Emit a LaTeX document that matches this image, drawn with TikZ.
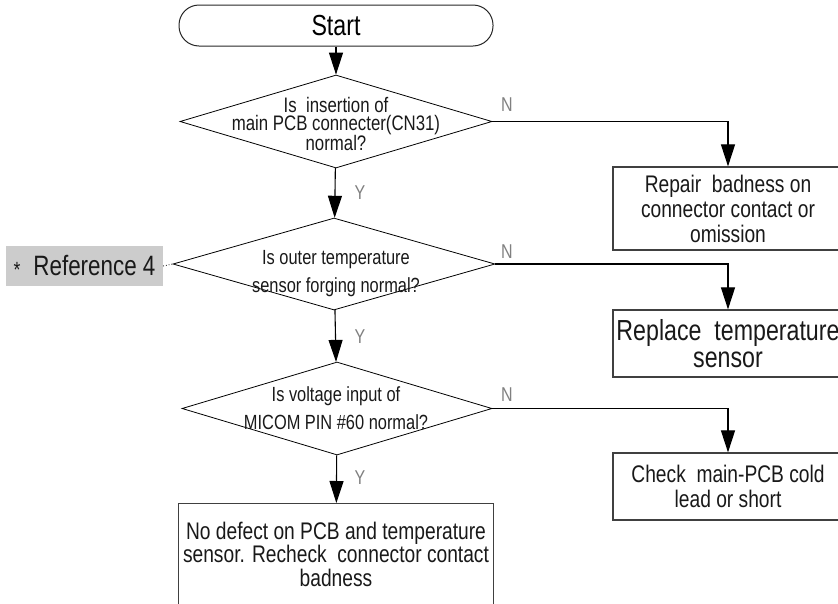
\documentclass[tikz,border=0pt]{standalone}
\usepackage{fontspec}
\setmainfont{Liberation Sans}[FakeStretch=0.8]
\usetikzlibrary{positioning,arrows.meta,shapes.geometric}

\begin{document}
\begin{tikzpicture}[x=1pt,y=-1pt,
    terminal/.style={rectangle,draw=black!85,line width=1pt,rounded corners=20pt,
                     minimum width=314pt,minimum height=41pt,inner sep=0pt,
                     font=\fontsize{29}{29}\selectfont},
    decision/.style={diamond,draw,line width=0.8pt,minimum width=312pt,minimum height=93pt,inner sep=0pt},
    question/.style={align=center,inner sep=0pt,text=black!90,font=\fontsize{20.5}{28}\selectfont},
    action/.style={rectangle,draw=black!75,line width=1.2pt,minimum width=230pt,inner sep=0pt,
                   align=center,text=black!90,font=\fontsize{24}{25}\selectfont},
    answer/.style={text=black!50,font=\fontsize{20}{20}\selectfont},
    arrow/.style={-{Triangle[length=22pt,width=14pt]},line width=1.1pt}
]
\useasboundingbox (0,0) rectangle (838,603);

\node[terminal] (start) at (336,25.5) {Start};
\node[decision] (q1) at (336,121.5) {};
\node[question,font=\fontsize{21}{18}\selectfont] (q1t) at (336,124) {Is\ \ insertion of\\main PCB connecter(CN31)\\normal?};
\node[decision,minimum width=322pt,minimum height=92pt] (q2) at (334,264) {};
\node[question] (q2t) at (336,274) {Is outer temperature\\sensor forging normal?};
\node[decision,minimum width=310pt] (q3) at (337,408.5) {};
\node[question] (q3t) at (336,408) {Is voltage input of\\MICOM PIN \#60 normal?};
\node[action,anchor=north,minimum width=315pt,minimum height=101.5pt,font=\fontsize{24}{23.5}\selectfont] (done) at (336,503)
    {No defect on PCB and temperature\\sensor. Recheck\ \ connector contact\\badness};

\node[action,minimum height=83pt] (fix1) at (728,208.5) {Repair\ \ badness on\\connector contact or\\omission};
\node[action,minimum height=67pt,font=\fontsize{29}{27}\selectfont] (fix2) at (728,343.5) {Replace\ \ temperature\\sensor};
\node[action,minimum height=67pt] (fix3) at (728,486.5) {Check\ \ main-PCB cold\\lead or short};

\node[fill=black!20,minimum width=157pt,minimum height=40pt,inner sep=0pt,text=black!90,
      font=\fontsize{28}{28}\selectfont] (ref) at (84.5,266)
    {\raisebox{-2pt}{\fontsize{22}{22}\selectfont *}\hspace{13pt}Reference 4};

\node[answer] (y1) at (360,193) {Y};
\node[answer] (y2) at (360,337) {Y};
\node[answer] (y3) at (360,478) {Y};
\node[answer] (n1) at (507,105) {N};
\node[answer] (n2) at (507,252) {N};
\node[answer] (n3) at (507,395) {N};

\draw[arrow] (start) -- (q1);
\draw[arrow] (q1) -- (q2);
\draw[arrow] (q2) -- (q3);
\draw[arrow] (q3) -- (done);
\draw[arrow] (q1.east) -| (fix1.north);
\draw[arrow] (q2.east) -| (fix2.north);
\draw[arrow] (q3.east) -| (fix3.north);
\draw[dotted,line width=0.8pt] (ref.east) -- (q2.west);
\end{tikzpicture}
\end{document}
